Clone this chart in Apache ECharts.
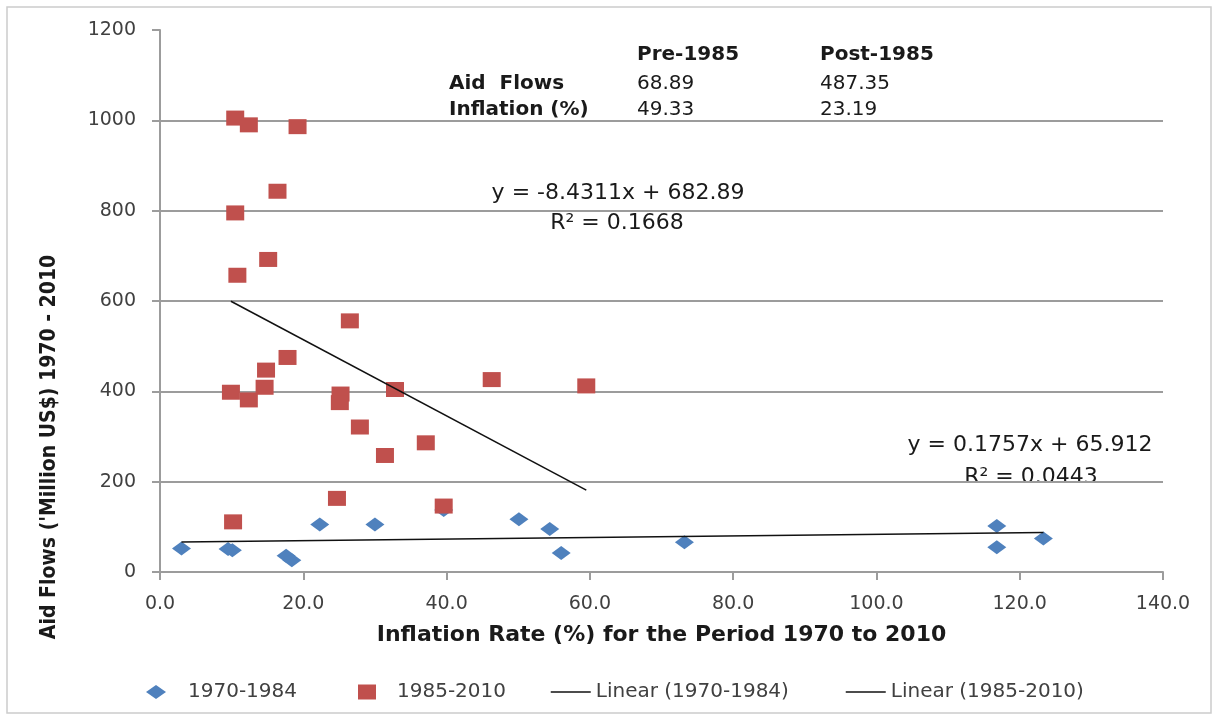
<!DOCTYPE html>
<html>
<head>
<meta charset="utf-8">
<title>Aid Flows vs Inflation</title>
<script src="https://cdn.jsdelivr.net/npm/echarts@6/dist/echarts.min.js"></script>
<style>
  html, body { margin: 0; padding: 0; background: #fff; }
  #chart { width: 1218px; height: 720px; }
</style>
</head>
<body>
<div id="chart"></div>
<script>
// 1970-1984 points: [inflation %, aid flows]
const period1 = [
  [3.0, 52], [9.5, 51], [10.1, 48], [17.6, 36], [18.4, 26],
  [22.3, 105], [30.0, 105], [39.6, 137], [50.1, 117], [54.4, 95],
  [56.0, 42], [73.2, 66], [116.8, 102], [116.8, 55], [123.3, 74]
]
// 1985-2010 points
const period2 = [
  [10.5, 1005], [12.4, 990], [19.2, 986], [16.4, 843], [10.5, 795],
  [15.1, 692], [10.8, 657], [26.5, 556], [17.8, 475], [14.8, 447],
  [14.6, 409], [9.9, 398], [12.4, 381], [25.2, 394], [25.1, 375],
  [32.8, 404], [27.9, 321], [31.4, 258], [37.1, 286], [24.7, 163],
  [10.2, 111], [39.6, 146], [46.3, 426], [59.5, 412]
]
// trend line end points
const trend1 = [[3.0, 66.4], [123.3, 87.6]]
const trend2 = [[9.9, 599.4], [59.5, 181.2]]

const seriesNames = ['1970-1984', '1985-2010', 'Linear (1970-1984)', 'Linear (1985-2010)']
const xTicks = { min: 0, max: 140, interval: 20 }
const yTicks = { min: 0, max: 1200, interval: 200 }

// summary table at the top
const tableHeader = ['Pre-1985', 'Post-1985']
const tableRows = ['Aid  Flows', 'Inflation (%)']
const tableValues = [['68.89', '487.35'], ['49.33', '23.19']]

const eq1 = ['y = -8.4311x + 682.89', 'R\u00b2 = 0.1668']
const eq2 = ['y = 0.1757x + 65.912', 'R\u00b2 = 0.0443']

const FONT = "'DejaVu Sans', Verdana, sans-serif"
const gridColor = '#9c9c9c'
const textColor = '#404040'

const chart = echarts.init(document.getElementById('chart'))

const txt = (text, x, y, opts = {}) => ({
  type: 'text',
  x: x,
  y: y,
  rotation: opts.rotation || 0,
  style: {
    text: text,
    fontFamily: opts.family || FONT,
    fontSize: opts.size || 20,
    fontWeight: opts.bold ? 'bold' : 'normal',
    fill: opts.color || '#1a1a1a',
    align: opts.align || 'left',
    verticalAlign: 'middle'
  }
})

const colX = [449, 637, 820]
const rowY = [55, 84, 110]
const graphics = [
  {
    type: 'rect',
    z: -10,
    shape: { x: 7, y: 7, width: 1204, height: 706 },
    style: { fill: 'none', stroke: '#cccccc', lineWidth: 1.5 }
  },
  txt(tableHeader[0], colX[1], rowY[0], { bold: true }),
  txt(tableHeader[1], colX[2], rowY[0], { bold: true }),
  txt(tableRows[0], colX[0], rowY[1], { bold: true }),
  txt(tableRows[1], colX[0], rowY[2], { bold: true }),
  txt(tableValues[0][0], colX[1], rowY[1]),
  txt(tableValues[0][1], colX[2], rowY[1]),
  txt(tableValues[1][0], colX[1], rowY[2]),
  txt(tableValues[1][1], colX[2], rowY[2]),
  txt(eq1[0], 618, 193, { size: 22, align: 'center' }),
  txt(eq1[1], 617, 223, { size: 22, align: 'center' }),
  txt(eq2[0], 1030, 445, { size: 22, align: 'center' }),
  txt(eq2[1], 1031, 477, { size: 22, align: 'center' }),
  // y axis title
  txt("Aid Flows ('Million US$) 1970 - 2010", 50, 447, {
    rotation: Math.PI / 2,
    align: 'center',
    bold: true,
    size: 21,
    family: "'DejaVu Sans Condensed', 'Liberation Sans Narrow', 'DejaVu Sans', sans-serif"
  })
]

const legendBase = {
  top: 682,
  padding: 0,
  selectedMode: false,
  textStyle: { fontFamily: FONT, fontSize: 20, color: textColor }
}

const option = {
  animation: false,
  backgroundColor: '#ffffff',
  grid: { left: 160, right: 55, top: 30, bottom: 148 },
  xAxis: {
    type: 'value',
    min: xTicks.min,
    max: xTicks.max,
    interval: xTicks.interval,
    name: 'Inflation Rate (%) for the Period 1970 to 2010',
    nameLocation: 'middle',
    nameGap: 52,
    nameTextStyle: { fontFamily: FONT, fontSize: 22, fontWeight: 'bold', color: '#1a1a1a' },
    axisLine: { show: true, lineStyle: { color: gridColor, width: 2 } },
    axisTick: { show: true, length: 8, lineStyle: { color: gridColor, width: 2 } },
    axisLabel: {
      margin: 23,
      fontFamily: FONT,
      fontSize: 19,
      color: textColor,
      formatter: v => v.toFixed(1)
    },
    splitLine: { show: false }
  },
  yAxis: {
    type: 'value',
    min: yTicks.min,
    max: yTicks.max,
    interval: yTicks.interval,
    axisLine: { show: true, lineStyle: { color: gridColor, width: 2 } },
    axisTick: { show: true, length: 8, lineStyle: { color: gridColor, width: 2 } },
    axisLabel: {
      margin: 24,
      fontFamily: FONT,
      fontSize: 19,
      color: textColor,
      formatter: v => String(v)
    },
    splitLine: {
      show: true,
      showMinLine: false,
      showMaxLine: false,
      lineStyle: { color: gridColor, width: 2 }
    }
  },
  legend: [
    Object.assign({}, legendBase, {
      left: 146, itemWidth: 20, itemHeight: 14,
      data: [{ name: seriesNames[0], icon: 'diamond', textStyle: { padding: [0, 0, 0, 17] } }]
    }),
    Object.assign({}, legendBase, {
      left: 358, itemWidth: 18, itemHeight: 15,
      data: [{ name: seriesNames[1], icon: 'rect', textStyle: { padding: [0, 0, 0, 16] } }]
    }),
    Object.assign({}, legendBase, {
      left: 550, itemWidth: 40, itemHeight: 14,
      itemStyle: { opacity: 0 },
      lineStyle: { color: '#111', width: 1.5 },
      data: [seriesNames[2]]
    }),
    Object.assign({}, legendBase, {
      left: 845, itemWidth: 40, itemHeight: 14,
      itemStyle: { opacity: 0 },
      lineStyle: { color: '#111', width: 1.5 },
      data: [seriesNames[3]]
    })
  ],
  series: [
    {
      name: seriesNames[0],
      type: 'scatter',
      symbol: 'diamond',
      symbolSize: [19, 14],
      itemStyle: { color: '#4F81BD', opacity: 1 },
      data: period1,
      z: 2
    },
    {
      name: seriesNames[1],
      type: 'scatter',
      symbol: 'rect',
      symbolSize: [18, 15],
      itemStyle: { color: '#C0504D', opacity: 1 },
      data: period2,
      z: 3
    },
    {
      name: seriesNames[2],
      type: 'line',
      symbol: 'none',
      lineStyle: { color: '#111', width: 1.5 },
      itemStyle: { color: '#111' },
      data: trend1,
      z: 4
    },
    {
      name: seriesNames[3],
      type: 'line',
      symbol: 'none',
      lineStyle: { color: '#111', width: 1.5 },
      itemStyle: { color: '#111' },
      data: trend2,
      z: 4
    }
  ],
  graphic: graphics
}

chart.setOption(option)
</script>
</body>
</html>
